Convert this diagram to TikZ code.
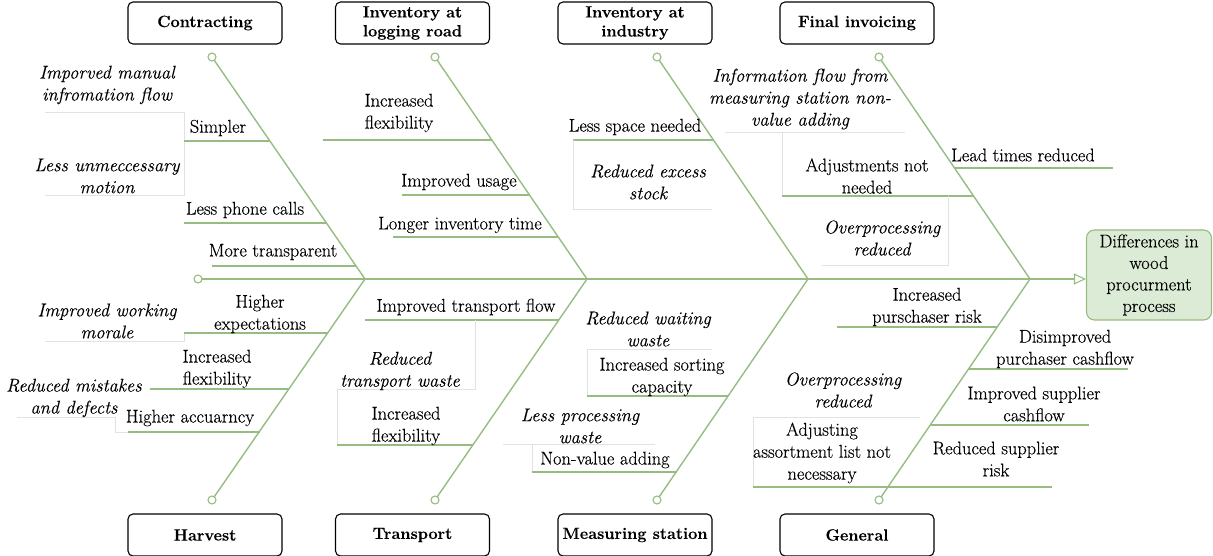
\documentclass[tikz,border=0pt]{standalone}
\usepackage{fontspec}
\setmainfont{Latin Modern Roman}
\newfontfamily\lmheavy{Latin Modern Roman}[FakeBold=0.3]
\usetikzlibrary{arrows.meta}
\definecolor{bone}{HTML}{96BC82}
\definecolor{lightrule}{HTML}{E2E2E2}
\definecolor{effectfill}{HTML}{DCEBD5}
\begin{document}
\begin{tikzpicture}[x=1pt,y=-1pt,
  every node/.style={inner sep=0pt},
  txt/.style={align=center,font=\lmheavy\fontsize{18.4}{22}\selectfont},
  itxt/.style={align=center,font=\lmheavy\fontsize{18.4}{22}\selectfont\itshape},
  catbox/.style={draw=black,line width=1.1pt,rounded corners=5pt,minimum width=154pt,minimum height=42pt,align=center,font=\lmheavy\fontsize{16.3}{19}\selectfont\bfseries},
  effbox/.style={draw=bone,fill=effectfill,line width=1.1pt,rounded corners=8pt,minimum width=125pt,minimum height=90pt,align=center,font=\lmheavy\fontsize{18.4}{21.5}\selectfont},
  endcirc/.style={draw=bone,fill=white,line width=1.1pt,circle,minimum size=8pt},
  boneline/.style={draw=bone,line width=1.4pt},
  subline/.style={draw=bone,line width=1.2pt},
  grayline/.style={draw=lightrule,line width=1pt}]
\useasboundingbox (0,0) rectangle (1213,556);

% categories
\node[catbox] (contr) at (205,23) {Contracting};
\node[catbox] (logr) at (412.5,23) {Inventory at\\logging road};
\node[catbox] (indu) at (635,23) {Inventory at\\industry};
\node[catbox] (finv) at (857,23) {Final invoicing};
\node[catbox] (harv) at (205,535) {Harvest};
\node[catbox] (trans) at (412.5,535) {Transport};
\node[catbox] (meas) at (635,535) {Measuring station};
\node[catbox] (gen) at (857,535) {General};

% effect
\node[effbox] (eff) at (1149,275) {Differences in\\wood\\procurment\\process};

% joints
\coordinate (J1) at (365,279);
\coordinate (J2) at (587,279);
\coordinate (J3) at (808,279);
\coordinate (J4) at (1030,279);

% bones
\draw[boneline] (J1) -- (212,57) coordinate (t1);
\draw[boneline] (J2) -- (435,57) coordinate (t2);
\draw[boneline] (J3) -- (657,57) coordinate (t3);
\draw[boneline] (J4) -- (879,57) coordinate (t4);
\draw[boneline] (J1) -- (212,500) coordinate (b1);
\draw[boneline] (J2) -- (435,500) coordinate (b2);
\draw[boneline] (J3) -- (657,500) coordinate (b3);
\draw[boneline] (J4) -- (879,500) coordinate (b4);

% spine
\coordinate (s0) at (198,279);
\draw[boneline,-{Triangle[open,length=12pt,width=11pt,line width=1.1pt]}] (s0) -- (s0 -| eff.west);

\node[endcirc] (cs0) at (s0) {};
\node[endcirc] (ct1) at (t1) {};
\node[endcirc] (ct2) at (t2) {};
\node[endcirc] (ct3) at (t3) {};
\node[endcirc] (ct4) at (t4) {};
\node[endcirc] (cb1) at (b1) {};
\node[endcirc] (cb2) at (b2) {};
\node[endcirc] (cb3) at (b3) {};
\node[endcirc] (cb4) at (b4) {};

% ---------- Contracting
\draw[grayline] (45,113) -- (184,113) -- (184,196) -- (45,196);
\draw[subline] (184,141) -- (270,141);
\draw[subline] (184,223) -- (326.4,223);
\draw[subline] (212,266) -- (356,266);
\node[itxt] (c1) at (107,85) {Imporved manual\\infromation flow};
\node[itxt] (c2) at (107,176) {Less unmeccessary\\motion};
\node[txt] (c3) at (218,128) {Simpler};
\node[txt] (c4) at (245,210) {Less phone calls};
\node[txt] (c5) at (273,252) {More transparent};

% ---------- Harvest
\draw[grayline] (45,341) -- (184,341) -- (184,333);
\draw[subline] (184,333) -- (327.8,333);
\draw[subline] (150,389) -- (289.2,389);
\draw[grayline] (17,417) -- (115,417) -- (115,432) -- (128,432);
\draw[subline] (128,432) -- (259.5,432);
\node[txt] (h1) at (260,314) {Higher\\expectations};
\node[itxt] (h2) at (107,321) {Improved working\\morale};
\node[txt] (h3) at (217,369) {Increased\\flexibility};
\node[itxt] (h4) at (74,398) {Reduced mistakes\\and defects};
\node[txt] (h5) at (190,418) {Higher accuarncy};

% ---------- Inventory at logging road
\draw[subline] (323,140) -- (491.8,140);
\draw[subline] (402,195) -- (529.5,195);
\draw[subline] (393,237) -- (558.2,237);
\node[txt] (l1) at (399,113) {Increased\\flexibility};
\node[txt] (l2) at (459,182) {Improved usage};
\node[txt] (l3) at (460,225) {Longer inventory time};

% ---------- Transport
\draw[subline] (365,320) -- (558.9,320);
\draw[grayline] (475,320) -- (475,389) -- (337,389) -- (337,445);
\draw[subline] (337,445) -- (473.3,445);
\node[txt] (p1) at (466,307) {Improved transport flow};
\node[itxt] (p2) at (400,371) {Reduced\\transport waste};
\node[txt] (p3) at (406,426) {Increased\\flexibility};

% ---------- Inventory at industry
\draw[subline] (573,140) -- (713.4,140);
\draw[grayline] (573,140) -- (573,210) -- (712,210);
\node[txt] (i1) at (635,127) {Less space needed};
\node[itxt] (i2) at (648,182) {Reduced excess\\stock};

% ---------- Measuring station
\draw[grayline] (712,349) -- (587,349) -- (587,396);
\draw[subline] (587,396) -- (728.4,396);
\draw[grayline] (503,444) -- (655,444);
\draw[grayline] (532,444) -- (532,472);
\draw[subline] (532,472) -- (676.8,472);
\node[itxt] (m1) at (648,329) {Reduced waiting\\waste};
\node[txt] (m2) at (662,377) {Increased sorting\\capacity};
\node[itxt] (m3) at (580,426) {Less processing\\waste};
\node[txt] (m4) at (605,460) {Non-value adding};

% ---------- Final invoicing
\draw[grayline] (725,133) -- (905,133);
\draw[grayline] (782,133) -- (782,196);
\draw[subline] (782,196) -- (973.5,196);
\draw[grayline] (948,196) -- (948,265) -- (822,265);
\draw[subline] (954.5,168) -- (1113,168);
\node[itxt] (f1) at (800,99) {Information flow from\\measuring station non-\\value adding};
\node[txt] (f2) at (867,176) {Adjustments not\\needed};
\node[itxt] (f3) at (882,238) {Overprocessing\\reduced};
\node[txt] (f4) at (1023,155) {Lead times reduced};

% ---------- General
\draw[subline] (837,327) -- (997.4,327);
\draw[subline] (968.8,369) -- (1128,369);
\draw[subline] (930.7,425) -- (1089,425);
\draw[grayline] (920,417) -- (753,417) -- (753,487);
\draw[subline] (753,487) -- (1052,487);
\node[txt] (g1) at (927,307) {Increased\\purschaser risk};
\node[txt] (g2) at (1065,349) {Disimproved\\purchaser cashflow};
\node[txt] (g3) at (1034,404) {Improved supplier\\cashflow};
\node[txt] (g4) at (996,459) {Reduced supplier\\risk};
\node[itxt] (g5) at (843,390) {Overprocessing\\reduced};
\node[txt] (g6) at (822,453) {Adjusting\\assortment list not\\necessary};
\end{tikzpicture}
\end{document}
